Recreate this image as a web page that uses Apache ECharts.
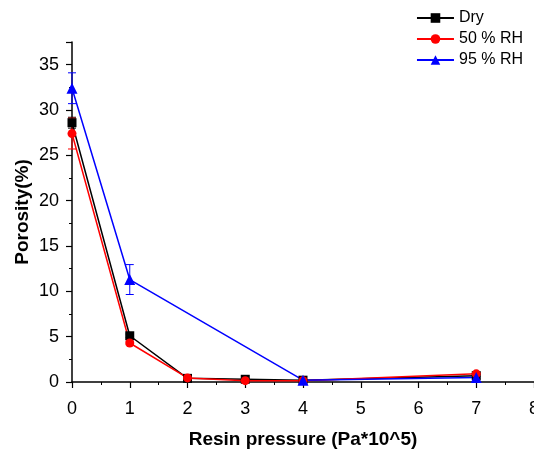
<!DOCTYPE html>
<html><head><meta charset="utf-8">
<script src="https://cdn.jsdelivr.net/npm/echarts@6/dist/echarts.min.js"></script>
<style>html,body{margin:0;padding:0;background:#fff}#c{width:534px;height:450px}</style>
</head><body><div id="c"></div>
<script>
const xVals = [0, 1, 2, 3, 4, 7];
const dryVals = [28.6, 5.1, 0.4, 0.3, 0.2, 0.7];
const dryErr = [0.6, 0.2, 0.1, 0.1, 0.05, 0.1];
const rh50Vals = [27.4, 4.3, 0.45, 0.15, 0.15, 0.9];
const rh50Err = [1.7, 0.2, 0.1, 0.1, 0.05, 0.1];
const rh95Vals = [32.4, 11.3, null, null, 0.2, 0.5];
const rh95Err = [1.7, 1.65, null, null, 0.05, 0.1];
const seriesNames = ['Dry', '50 % RH', '95 % RH'];
const colors = ['#000000', '#ff0000', '#0000ff'];
const symbols = ['rect', 'circle', 'triangle'];

const font = 'Arial, "Liberation Sans", sans-serif';
const chart = echarts.init(document.getElementById('c'));

function pts(vals) {
  const out = [];
  vals.forEach((v, i) => { if (v !== null) out.push([xVals[i], v]); });
  return out;
}
function errData(vals, errs) {
  const out = [];
  vals.forEach((v, i) => { if (v !== null) out.push([xVals[i], v - errs[i], v + errs[i]]); });
  return out;
}
function errSeries(vals, errs, color) {
  return {
    type: 'custom', silent: true, z: 1,
    data: errData(vals, errs),
    encode: { x: 0, y: [1, 2] },
    renderItem: function (params, api) {
      const lo = api.coord([api.value(0), api.value(1)]);
      const hi = api.coord([api.value(0), api.value(2)]);
      const w = 4;
      const st = { stroke: color, lineWidth: 1 };
      return { type: 'group', children: [
        { type: 'line', shape: { x1: lo[0], y1: lo[1], x2: hi[0], y2: hi[1] }, style: st },
        { type: 'line', shape: { x1: lo[0]-w, y1: lo[1], x2: lo[0]+w, y2: lo[1] }, style: st },
        { type: 'line', shape: { x1: hi[0]-w, y1: hi[1], x2: hi[0]+w, y2: hi[1] }, style: st }
      ]};
    }
  };
}
const valsList = [dryVals, rh50Vals, rh95Vals];
const errList = [dryErr, rh50Err, rh95Err];
const series = [];
valsList.forEach((v, k) => {
  series.push({
    name: seriesNames[k], type: 'line', data: pts(v),
    symbol: symbols[k], symbolSize: k === 2 ? 11 : 9,
    itemStyle: { color: colors[k] },
    lineStyle: { color: colors[k], width: 1.5 },
    clip: false, z: 2
  });
  series.push(errSeries(v, errList[k], colors[k]));
});

chart.setOption({
  animation: false,
  backgroundColor: '#fff',
  grid: { left: 72, right: 0, top: 42, bottom: 68, containLabel: false, outerBoundsMode: 'none' },
  legend: {
    orient: 'vertical', right: 6, top: 5, itemGap: 5,
    itemWidth: 37, itemHeight: 12,
    data: seriesNames,
    textStyle: { fontFamily: font, fontSize: 16, color: '#000' }
  },
  xAxis: {
    type: 'value', min: 0, max: 8, interval: 1,
    name: 'Resin pressure (Pa*10^5)', nameLocation: 'middle', nameGap: 48,
    nameMoveOverlap: false,
    nameTextStyle: { fontFamily: font, fontSize: 19, fontWeight: 'bold', color: '#000' },
    axisLine: { onZero: false, lineStyle: { color: '#000', width: 1.5 } },
    axisTick: { show: true, length: 6, lineStyle: { color: '#000', width: 1.2 } },
    minorTick: { show: true, splitNumber: 2, length: 3, lineStyle: { color: '#000', width: 1 } },
    axisLabel: { fontFamily: font, fontSize: 18, color: '#000', margin: 18 },
    splitLine: { show: false }
  },
  yAxis: {
    type: 'value', min: 0, max: 37.5, interval: 5,
    name: 'Porosity(%)', nameLocation: 'middle', nameGap: 40, nameRotate: 90,
    nameMoveOverlap: false,
    nameTextStyle: { fontFamily: font, fontSize: 19, fontWeight: 'bold', color: '#000' },
    axisLine: { show: true, lineStyle: { color: '#000', width: 1.5 } },
    axisTick: { show: true, length: 6, lineStyle: { color: '#000', width: 1.2 } },
    minorTick: { show: true, splitNumber: 2, length: 3, lineStyle: { color: '#000', width: 1 } },
    axisLabel: { fontFamily: font, fontSize: 18, color: '#000', margin: 13,
      formatter: v => (v % 5 === 0 ? String(v) : '') },
    splitLine: { show: false }
  },
  series: series
});
</script></body></html>
